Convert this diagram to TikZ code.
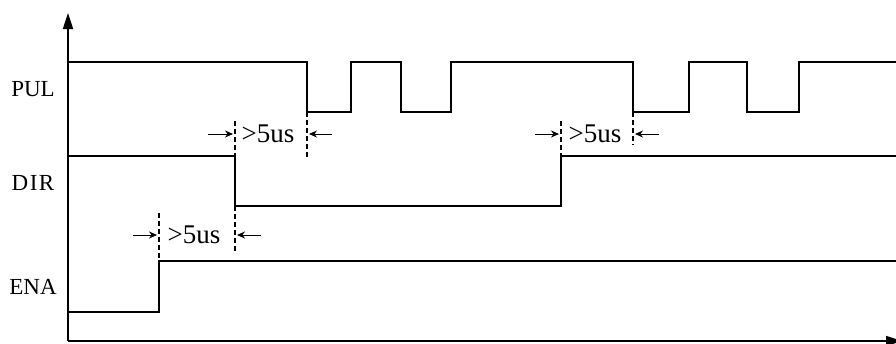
\documentclass[tikz,border=0pt]{standalone}
\usepackage{fontspec}
\setmainfont{Liberation Serif}
\usetikzlibrary{arrows.meta}
\tikzset{wave/.style={line width=1.7pt, line join=miter}}
\tikzset{axis/.style={line width=1.7pt, -{Triangle[length=16pt,width=10pt]}}}
\tikzset{guide/.style={line width=1.3pt, dash pattern=on 5pt off 3pt}}
\tikzset{gap/.style={line width=1pt, -{Stealth[length=8pt,width=7pt]}}}

\begin{document}
\begin{tikzpicture}[x=1pt,y=-1pt]
    \useasboundingbox (0,0) rectangle (896,343);

    \node at (33,89)    (pul)  {\fontsize{23}{23}\selectfont PUL};
    \node at (33,183)   (dir)  {\fontsize{23}{23}\selectfont D\kern1.5pt I\kern1.5pt R};
    \node at (33,287)   (ena)  {\fontsize{23}{23}\selectfont ENA};

    \node[inner sep=0pt] at (268,134)  (dirpul)   {\fontsize{27}{27}\selectfont >5us};
    \node[inner sep=0pt] at (595,134)  (dirpul2)  {\fontsize{27}{27}\selectfont >5us};
    \node[inner sep=0pt] at (194,235)  (enadir)   {\fontsize{27}{27}\selectfont >5us};

    \coordinate (o)    at (68,341);
    \coordinate (ytop) at (68,13);
    \coordinate (xend) at (902,341);
    \draw[axis] (o) -- (ytop);
    \draw[axis] (o) -- (xend);

    % signals
    \draw[wave] (68,62) -| (307,112) -| (351,62) -| (401,112) -| (451,62)
        -| (633,112) -| (689,62) -| (747,112) -| (799,62) -- (896,62);
    \draw[wave] (68,156) -| (235,206) -| (561,156) -- (896,156);
    \draw[wave] (68,312) -| (159,261) -- (896,261);

    % timing marks
    \draw[guide] (235,121) -- (235,156);
    \draw[guide] (307,112) -- (307,159);
    \draw[guide] (561,121) -- (561,156);
    \draw[guide] (633,112) -- (633,145);
    \draw[guide] (159,213) -- (159,261);
    \draw[guide] (235,206) -- (235,252);

    \coordinate (a1) at (208,134);
    \coordinate (a2) at (233,134);
    \coordinate (a3) at (332,134);
    \coordinate (a4) at (309,134);
    \coordinate (b1) at (535,134);
    \coordinate (b2) at (559,134);
    \coordinate (b3) at (659,134);
    \coordinate (b4) at (635,134);
    \coordinate (c1) at (133,235);
    \coordinate (c2) at (157,235);
    \coordinate (c3) at (261,235);
    \coordinate (c4) at (237,235);
    \draw[gap] (a1) -- (a2);
    \draw[gap] (a3) -- (a4);
    \draw[gap] (b1) -- (b2);
    \draw[gap] (b3) -- (b4);
    \draw[gap] (c1) -- (c2);
    \draw[gap] (c3) -- (c4);
\end{tikzpicture}
\end{document}
